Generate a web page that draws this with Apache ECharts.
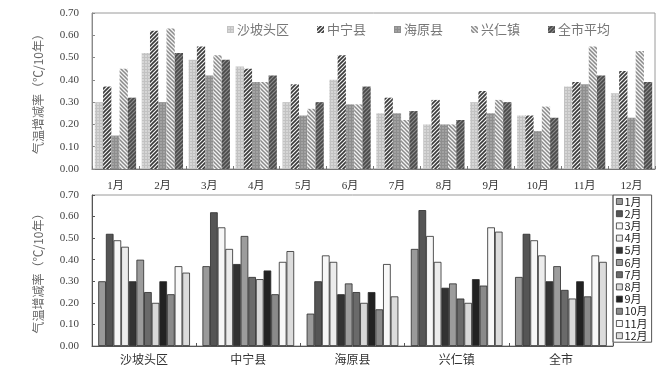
<!DOCTYPE html>
<html><head><meta charset="utf-8">
<script src="https://cdn.jsdelivr.net/npm/echarts@6/dist/echarts.min.js"></script>
<style>html,body{margin:0;padding:0;background:#fff}#c{width:672px;height:365px}</style>
</head><body><div id="c"></div>
<script>
const months = ['1月','2月','3月','4月','5月','6月','7月','8月','9月','10月','11月','12月'];
const regions = ['沙坡头区','中宁县','海原县','兴仁镇','全市'];
const topNames = ['沙坡头区','中宁县','海原县','兴仁镇','全市平均'];
const yTicks = [0,0.1,0.2,0.3,0.4,0.5,0.6,0.7];
const shapotou = [0.30,0.52,0.49,0.46,0.30,0.40,0.25,0.20,0.30,0.24,0.37,0.34];
const zhongning = [0.37,0.62,0.55,0.45,0.38,0.51,0.32,0.31,0.35,0.24,0.39,0.44];
const haiyuan = [0.15,0.30,0.42,0.39,0.24,0.29,0.25,0.20,0.25,0.17,0.38,0.23];
const xingren = [0.45,0.63,0.51,0.39,0.27,0.29,0.22,0.20,0.31,0.28,0.55,0.53];
const quanshi = [0.32,0.52,0.49,0.42,0.30,0.37,0.26,0.22,0.30,0.23,0.42,0.39];
const regionData = [shapotou, zhongning, haiyuan, xingren, quanshi];

function pat(size, bg, draw){
  const c=document.createElement('canvas'); c.width=c.height=size;
  const ctx=c.getContext('2d'); ctx.fillStyle=bg; ctx.fillRect(0,0,size,size); draw(ctx,size);
  return {image:c, repeat:'repeat'};
}
function gridPat(bg, line){ return pat(3,bg,(ctx)=>{ctx.fillStyle=line;ctx.fillRect(0,0,3,1);ctx.fillRect(0,0,1,3);}); }
function stripe(bg, line, dir, w, s0){
  return pat(s0,bg,(ctx,s)=>{ctx.strokeStyle=line;ctx.lineWidth=w;ctx.beginPath();
    for(let k=-1;k<=1;k++){
      if(dir>0){ctx.moveTo(k*s-1,s+1);ctx.lineTo(k*s+s+1,-1);} else {ctx.moveTo(k*s-1,-1);ctx.lineTo(k*s+s+1,s+1);}
    }
    ctx.stroke();});
}
const topStyles = [
  gridPat('#d6d6d6','#c2c2c2'),
  stripe('#f2f2f2','#3a3a3a',1,1.6,4),
  gridPat('#a2a2a2','#8e8e8e'),
  stripe('#f4f4f4','#8a8a8a',-1,1.5,4),
  stripe('#8c8c8c','#4a4a4a',1,1.6,4)
];
const monthColors = ['#9a9a9a','#555555','#f7f7f7','#ececec','#333333','#9c9c9c','#6a6a6a','#d8d8d8','#222222','#8a8a8a','#f8f8f8','#dcdcdc'];

const serif = '"Liberation Serif","Noto Sans CJK SC",serif';
const cjk = '"Noto Sans CJK SC",sans-serif';
const chart = echarts.init(document.getElementById('c'), null, {renderer:'canvas'});

const yAxisCommon = (gi, lineColor) => ({
  type:'value', gridIndex:gi, min:0, max:0.7, interval:0.1,
  name:'气温增减率（℃/10年）', nameLocation:'middle', nameGap:48, nameRotate:90,
  nameTextStyle:{fontFamily:cjk, fontSize:12, color:'#666'},
  axisLine:{show:true, lineStyle:{color:lineColor, width:1}},
  axisTick:{show:true, inside:true, length:3, lineStyle:{color:lineColor}},
  axisLabel:{margin:13, fontFamily:serif, fontSize:11, color:'#444', formatter:v=>v.toFixed(2)},
  splitLine:{show:false}
});

const series = [];
topNames.forEach((n,i)=>{
  series.push({name:n, type:'bar', xAxisIndex:0, yAxisIndex:0, data:regionData[i],
    barGap:'0%', barCategoryGap:'12%', itemStyle:{color:topStyles[i]}});
});
months.forEach((m,j)=>{
  series.push({name:m, type:'bar', xAxisIndex:1, yAxisIndex:1,
    data: regionData.map(a=>a[j]), barGap:'0%', barCategoryGap:'12%',
    itemStyle:{color:monthColors[j], borderColor:'#2a2a2a', borderWidth:0.8}});
});

chart.setOption({
  animation:false,
  backgroundColor:'#fff',
  grid:[
    {left:92, top:13, width:563, height:156, show:true, borderColor:'#9a9a9a', borderWidth:1},
    {left:92, top:195, width:521, height:151, show:true, borderColor:'#9a9a9a', borderWidth:1}
  ],
  xAxis:[
    {type:'category', gridIndex:0, data:months,
      axisLine:{show:true, lineStyle:{color:'#777'}},
      axisTick:{show:true, inside:true, length:3, lineStyle:{color:'#777'}},
      axisLabel:{margin:12, fontFamily:serif, fontSize:11, color:'#333'}},
    {type:'category', gridIndex:1, data:regions,
      axisLine:{show:true, lineStyle:{color:'#555'}},
      axisTick:{show:true, inside:true, length:3, lineStyle:{color:'#555'}},
      axisLabel:{margin:7, fontFamily:cjk, fontSize:12, color:'#333'}}
  ],
  yAxis:[ yAxisCommon(0,'#8a8a8a'), yAxisCommon(1,'#555') ],
  legend:[
    {data:topNames, left:222, top:18, itemWidth:7, itemHeight:7, icon:'rect', itemGap:28,
      textStyle:{fontFamily:cjk, fontSize:13, color:'#777', padding:[0,0,0,-2]}},
    {data:months, orient:'vertical', left:613, top:195, width:42, itemWidth:6, itemHeight:6, icon:'rect',
      itemGap:1.2, padding:[1,4,1,3], borderColor:'#555', borderWidth:1,
      itemStyle:{borderColor:'#333', borderWidth:0.8},
      textStyle:{fontFamily:cjk, fontSize:11, color:'#222', lineHeight:11, padding:[0,0,0,-3]}}
  ],
  series
});
</script></body></html>
